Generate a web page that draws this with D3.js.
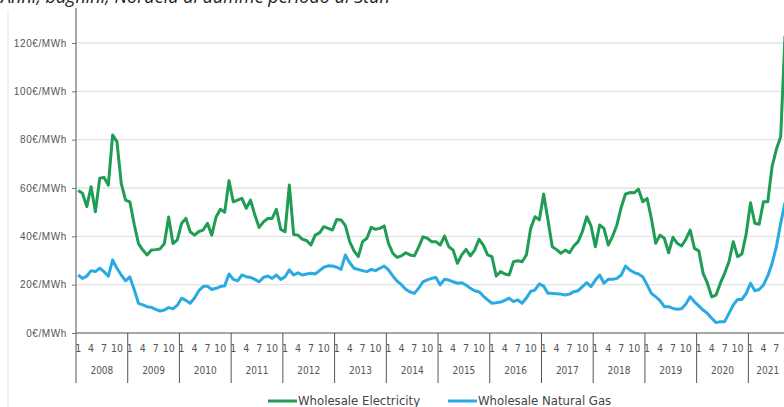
<!DOCTYPE html>
<html>
<head>
<meta charset="utf-8">
<script src="https://cdn.jsdelivr.net/npm/d3@7"></script>
<style>
  body { margin: 0; background: #fff; }
  svg { display: block; }
</style>
</head>
<body>
<div id="chart"></div>
<script>
// Wholesale electricity vs natural gas, monthly Jan 2008 - Sep 2021 (EUR/MWh)

const years = ['2008', '2009', '2010', '2011', '2012', '2013', '2014', '2015', '2016', '2017', '2018', '2019', '2020', '2021'];
const monthTicks = [1, 4, 7, 10];
const yTicks = [0, 20, 40, 60, 80, 100, 120];
const seriesNames = ['Wholesale Electricity', 'Wholesale Natural Gas'];

// one value per month, starting January 2008
const electricity = [
  59, 57.8, 52.3, 60.5, 50.2, 64, 64.4, 61.2, 81.9, 79.2, 61.9, 55,
  54.3, 45, 37, 34.3, 32.3, 34.3, 34.5, 34.8, 37, 48, 37, 38.5,
  45.4, 47.4, 41.9, 40.5, 42, 42.6, 45.4, 40.5, 48, 51.2, 50, 63,
  54.3, 55, 55.7, 51.6, 55, 48.8, 43.7, 46, 47.4, 47.4, 51.2, 42.9,
  41.9, 61.2, 40.8, 40.5, 38.8, 38.3, 36.4, 40.5, 41.4, 44, 43.3, 42.6,
  47, 46.8, 44.4, 37.8, 34, 31.6, 37.8, 39.2, 43.7, 42.9, 43.3, 44.3,
  37.1, 33, 31.3, 31.9, 33.2, 32.3, 31.9, 35.5, 39.8, 39.2, 37.8, 37.8,
  36.4, 40.1, 35.7, 34.3, 28.8, 32.3, 34.6, 31.9, 34.3, 38.8, 36.4, 32.3,
  31.6, 23.6, 25.4, 24.4, 24, 29.5, 29.9, 29.5, 32.3, 43.3, 48.1, 46.8,
  57.5, 46.8, 35.7, 34.5, 33, 34.3, 33.2, 36, 37.8, 42, 48.1, 44.3,
  35.7, 44.7, 43.3, 36.4, 40, 44.7, 52, 57.5, 58.1, 58, 59.5, 54.3,
  55.7, 47.4, 37.1, 40.5, 39.2, 33.2, 39.6, 37.1, 36, 38.8, 42.6, 35,
  34, 24.7, 20.6, 15, 15.7, 20.6, 24.7, 29.5, 37.8, 31.6, 32.7, 41,
  53.9, 45.4, 45, 54.3, 54.3, 68.8, 76, 81.2, 123
];

const naturalGas = [
  24, 22.6, 23.5, 25.8, 25.4, 26.8, 25.4, 23.5, 30.2, 26.8, 24, 21.6,
  23.2, 18, 12.3, 11.6, 10.9, 10.6, 9.8, 9.1, 9.5, 10.5, 10, 11.5,
  14.4, 13.5, 12.3, 14.5, 17.5, 19.2, 19.4, 18, 18.5, 19.2, 19.5, 24.4,
  22.2, 21.6, 24, 23.3, 23, 22.2, 21.2, 23, 23.6, 22.6, 24, 22.2,
  23.3, 26.1, 24, 24.9, 24, 24.4, 24.7, 24.4, 25.8, 27.2, 27.8, 27.7,
  27.2, 26.3, 32.3, 29.1, 26.8, 26.3, 25.8, 25.4, 26.3, 25.8, 26.8, 27.7,
  26.1, 23.6, 21.5, 20, 18.1, 17, 16.4, 18.5, 21.2, 22, 22.6, 23,
  19.9, 22.2, 21.9, 21.2, 20.6, 20.8, 19.8, 18.5, 17.5, 17.1, 15.3, 13.7,
  12.3, 12.5, 12.8, 13.5, 14.4, 13, 13.7, 12.3, 14.5, 17.2, 17.8, 20.3,
  19.4, 16.4, 16.4, 16.2, 16.1, 15.7, 16.1, 17.1, 17.5, 19.2, 20.8, 19.2,
  21.9, 24, 20.6, 22.2, 22.2, 22.6, 24, 27.7, 26.1, 25, 24.4, 23.3,
  19.9, 16.4, 15, 13.4, 10.9, 10.9, 10.2, 9.8, 10, 12, 15, 12.9,
  11.2, 9.5, 8.1, 6.1, 4.3, 4.7, 4.7, 8.1, 11.6, 13.9, 13.9, 16.4,
  20.6, 17.5, 18, 19.9, 23.6, 28.8, 35.7, 45.4, 54
];

(function() {
  const W = 784, H = 407;
  const nMonths = electricity.length;
  const monthW = 4.31;
  const plot = { left: 76, top: 43, bottom: 333 };
  plot.right = plot.left + nMonths * monthW;

  const svg = d3.select('#chart')
    .append('svg')
    .attr('width', W)
    .attr('height', H)
    .style('font-family', '"Liberation Sans Narrow", "DejaVu Sans Condensed", Arial, sans-serif');

  // Cropped heading at the very top of the picture
  svg.append('text')
    .attr('x', 1)
    .attr('y', 3)
    .style('font-family', '"Open Sans", sans-serif')
    .style('font-style', 'italic')
    .style('font-size', '18px')
    .style('fill', '#222')
    .text('Anni, bagnini, Nordeid ai damme periodo di Stan');

  // faint frame line on the left
  svg.append('line')
    .attr('x1', 8).attr('x2', 8)
    .attr('y1', 10).attr('y2', H)
    .attr('stroke', '#f0f0f0')
    .attr('stroke-width', 2);

  // month categories, index 0 = Jan 2008
  const monthKeys = d3.range(nMonths);
  const x = d3.scaleBand()
    .domain(monthKeys)
    .range([plot.left, plot.right])
    .padding(0);
  const cx = k => x(k) + x.bandwidth() / 2;

  const y = d3.scaleLinear()
    .domain([0, 120])
    .range([plot.bottom, plot.top]);

  // Gridlines
  svg.append('g')
    .selectAll('line')
    .data(yTicks.filter(d => d > 0))
    .enter()
    .append('line')
    .attr('x1', plot.left)
    .attr('x2', W)
    .attr('y1', d => y(d))
    .attr('y2', d => y(d))
    .attr('stroke', '#e3e3e3')
    .attr('stroke-width', 1.3);

  // Y axis
  const yAxis = d3.axisLeft(y)
    .tickValues(yTicks)
    .tickSize(4)
    .tickPadding(5)
    .tickFormat(d => d + '€/MWh');

  const yg = svg.append('g')
    .attr('transform', `translate(${plot.left},0)`)
    .call(yAxis);
  yg.select('.domain').remove();
  yg.selectAll('line').attr('stroke', '#777');
  yg.selectAll('text')
    .style('font-size', '10px')
    .style('letter-spacing', '0.6px')
    .style('fill', '#555');

  svg.append('line')
    .attr('x1', plot.left).attr('x2', plot.left)
    .attr('y1', 8).attr('y2', plot.bottom)
    .attr('stroke', '#777')
    .attr('stroke-width', 1.3);

  // X axis baseline
  svg.append('line')
    .attr('x1', plot.left).attr('x2', W)
    .attr('y1', plot.bottom).attr('y2', plot.bottom)
    .attr('stroke', '#888')
    .attr('stroke-width', 1.3);

  // year separators
  svg.append('g')
    .selectAll('line')
    .data(years)
    .enter()
    .append('line')
    .attr('x1', (d, i) => x(i * 12))
    .attr('x2', (d, i) => x(i * 12))
    .attr('y1', plot.bottom)
    .attr('y2', 383)
    .attr('stroke', '#555')
    .attr('stroke-width', 1);

  // month labels (only months that exist in the data)
  const monthLabels = [];
  years.forEach((yr, i) => monthTicks.forEach(m => {
    const k = i * 12 + m - 1;
    if (k < nMonths) monthLabels.push({ k: k, m: m });
  }));
  svg.append('g')
    .selectAll('text')
    .data(monthLabels)
    .enter()
    .append('text')
    .attr('x', d => cx(d.k))
    .attr('y', 352)
    .attr('text-anchor', 'middle')
    .style('font-size', '10.5px')
    .style('fill', '#555')
    .text(d => d.m);

  // year labels, centred over the months of that year
  svg.append('g')
    .selectAll('text')
    .data(years)
    .enter()
    .append('text')
    .attr('x', (d, i) => {
      const last = Math.min(i * 12 + 11, nMonths - 1);
      return (x(i * 12) + x(last) + x.bandwidth()) / 2;
    })
    .attr('y', 374)
    .attr('text-anchor', 'middle')
    .style('font-size', '10px')
    .style('fill', '#555')
    .text(d => d);

  // Lines
  const line = d3.line()
    .x((d, i) => cx(i))
    .y(d => y(d));

  const colors = ['#1f9d55', '#2aaae2'];
  [electricity, naturalGas].forEach((vals, i) => {
    svg.append('path')
      .datum(vals)
      .attr('fill', 'none')
      .attr('stroke', colors[i])
      .attr('stroke-width', 3)
      .attr('stroke-linejoin', 'round')
      .attr('d', line);
  });

  // Legend
  const legendX = [268, 448];
  const legend = svg.append('g')
    .selectAll('g')
    .data(seriesNames)
    .enter()
    .append('g')
    .attr('transform', (d, i) => `translate(${legendX[i]}, 401)`);

  legend.append('line')
    .attr('x1', 0).attr('x2', 29)
    .attr('stroke', (d, i) => colors[i])
    .attr('stroke-width', 3);

  legend.append('text')
    .attr('x', 30)
    .attr('y', 4)
    .style('font-size', '13px')
    .style('fill', '#444')
    .text(d => d);
})();
</script>
</body>
</html>
